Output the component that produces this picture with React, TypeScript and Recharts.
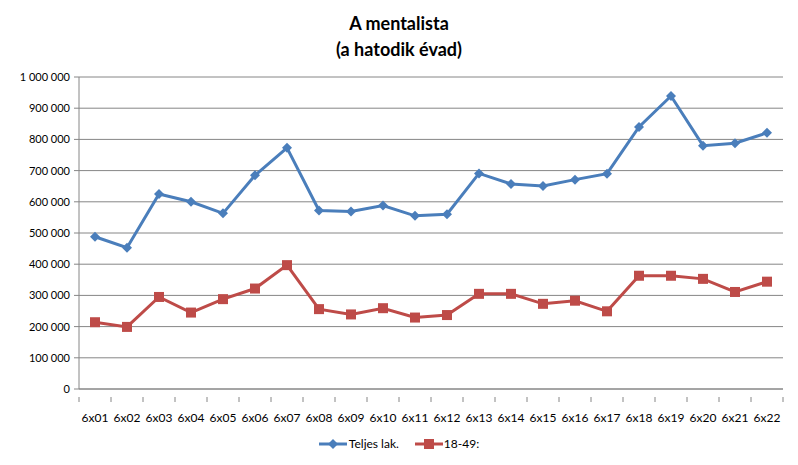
import React from 'react'
import { LineChart, Line, XAxis, YAxis, CartesianGrid } from 'recharts'

const EPIZODOK = ['6x01', '6x02', '6x03', '6x04', '6x05', '6x06', '6x07', '6x08', '6x09', '6x10', '6x11', '6x12', '6x13', '6x14', '6x15', '6x16', '6x17', '6x18', '6x19', '6x20', '6x21', '6x22']
const TELJES = [488000, 453000, 625000, 600000, 563000, 685000, 773000, 572000, 569000, 588000, 555000, 560000, 691000, 657000, 651000, 671000, 690000, 840000, 939000, 780000, 788000, 821000]
const FIATAL = [214000, 199000, 295000, 245000, 288000, 322000, 397000, 256000, 239000, 259000, 229000, 237000, 305000, 305000, 273000, 283000, 249000, 363000, 363000, 353000, 311000, 344000]
const Y_TICKS = [0, 100000, 200000, 300000, 400000, 500000, 600000, 700000, 800000, 900000, 1000000]

const KEK = '#4a7ebb'
const PIROS = '#be4b48'
const FONT = 'Lato, "Open Sans", sans-serif'

const adatok = EPIZODOK.map((ep, i) => ({ ep, teljes: TELJES[i], fiatal: FIATAL[i] }))

const ezres = (v: number) => String(v).replace(/\B(?=(\d{3})+(?!\d))/g, '\u00a0')

function Gyemant({ cx, cy }: any) {
  if (cx == null || cy == null) return null
  return <path d={`M${cx},${cy - 5} L${cx + 5},${cy} L${cx},${cy + 5} L${cx - 5},${cy} Z`} fill={KEK} />
}

function Negyzet({ cx, cy }: any) {
  if (cx == null || cy == null) return null
  return <rect x={cx - 5} y={cy - 5} width={10} height={10} fill={PIROS} />
}

function XTick({ x, y, payload, index }: any) {
  const fel = 16
  return (
    <g>
      <line x1={x - fel} y1={y} x2={x - fel} y2={y + 5} stroke="#868686" />
      {index === EPIZODOK.length - 1 && <line x1={x + fel} y1={y} x2={x + fel} y2={y + 5} stroke="#868686" />}
      <text x={x} y={y + 25} textAnchor="middle" fontSize={12} fill="#000" fontFamily={FONT}>
        {payload.value}
      </text>
    </g>
  )
}

function Jelmagyarazat() {
  return (
    <div style={{ position: 'absolute', left: 0, top: 436, width: 798, display: 'flex', justifyContent: 'center', alignItems: 'center', fontFamily: FONT, fontSize: 12, color: '#000' }}>
      <svg width={28} height={12} style={{ marginRight: 2 }}>
        <line x1={0} y1={6} x2={28} y2={6} stroke={KEK} strokeWidth={3} />
        <path d="M14,1 L19,6 L14,11 L9,6 Z" fill={KEK} />
      </svg>
      <span style={{ marginRight: 16 }}>Teljes lak.</span>
      <svg width={28} height={12} style={{ marginRight: 1 }}>
        <line x1={0} y1={6} x2={28} y2={6} stroke={PIROS} strokeWidth={3} />
        <rect x={9} y={1} width={10} height={10} fill={PIROS} />
      </svg>
      <span>18-49:</span>
    </div>
  )
}

export default function App() {
  return (
    <div style={{ position: 'absolute', left: 0, top: 0, width: 798, height: 465, background: '#fff' }}>
      <div style={{ position: 'absolute', left: 0, top: 10, width: 798, textAlign: 'center', fontFamily: FONT, fontWeight: 'bold', fontSize: 18, lineHeight: '26px', color: '#000' }}>
        A mentalista
        <br />
        (a hatodik évad)
      </div>
      <LineChart width={798} height={465} data={adatok} margin={{ top: 77, right: 15, bottom: 30, left: 0 }}>
        <CartesianGrid vertical={false} stroke="#868686" />
        <XAxis dataKey="ep" scale="band" stroke="#868686" tickLine={false} tick={<XTick />} interval={0} height={46} />
        <YAxis
          width={79}
          domain={[0, 1000000]}
          ticks={Y_TICKS}
          tickFormatter={ezres}
          stroke="#868686"
          tickSize={5}
          tickMargin={4}
          tick={{ fill: '#000', fontSize: 11, fontFamily: FONT }}
          interval={0}
        />
        <Line dataKey="teljes" name="Teljes lak." stroke={KEK} strokeWidth={3} dot={<Gyemant />} activeDot={false} isAnimationActive={false} />
        <Line dataKey="fiatal" name="18-49:" stroke={PIROS} strokeWidth={3} dot={<Negyzet />} activeDot={false} isAnimationActive={false} />
      </LineChart>
      <Jelmagyarazat />
    </div>
  )
}
